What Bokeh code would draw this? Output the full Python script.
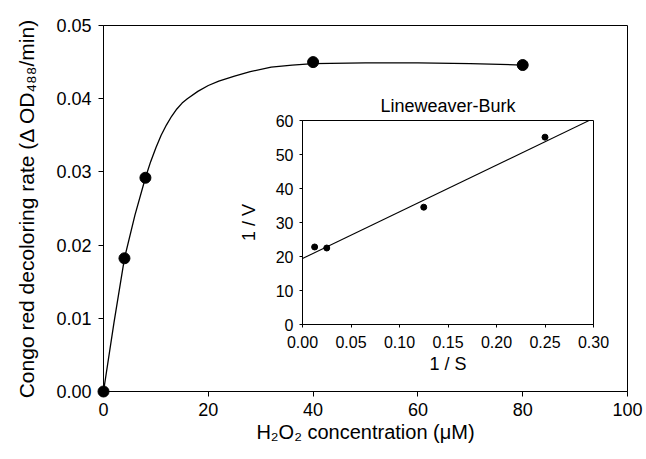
from bokeh.plotting import figure
from bokeh.layouts import column
from bokeh.models import FixedTicker, NumeralTickFormatter
from bokeh.embed import file_html
from bokeh.resources import INLINE

# ---- main data ----
conc = [0, 4, 8, 40, 80]
rate = [0.0, 0.0182, 0.0292, 0.0450, 0.0446]
curve_x = [0, 2, 4, 6, 8, 9, 10, 11, 12, 13, 14, 15, 16, 18, 20, 22, 25, 28,
           32, 36, 40, 50, 60, 70, 80]
curve_y = [0.0, 0.0094, 0.0182, 0.0241, 0.0292, 0.0314, 0.0333, 0.0350, 0.0364,
           0.0376, 0.0386, 0.0394, 0.0400, 0.0410, 0.0418, 0.0424, 0.0431, 0.0437,
           0.0443, 0.0446, 0.0448, 0.0449, 0.0449, 0.0448, 0.0446]
x_ticks = [0, 20, 40, 60, 80, 100]
y_ticks = [0.0, 0.01, 0.02, 0.03, 0.04, 0.05]

# ---- inset (Lineweaver-Burk) data ----
inv_s = [0.0125, 0.025, 0.125, 0.25]
inv_v = [22.8, 22.5, 34.5, 55.1]
fit_x = [0.0, 0.297]
fit_y = [19.4, 60.2]
ix_ticks = [0.0, 0.05, 0.10, 0.15, 0.20, 0.25, 0.30]
iy_ticks = [0, 10, 20, 30, 40, 50, 60]

FONT = "Liberation Sans"

p = figure(width=646, height=459, x_range=(0, 100), y_range=(0, 0.05),
           output_backend="svg", toolbar_location=None)
p.min_border_left = 103
p.min_border_right = 19
p.min_border_top = 25
p.min_border_bottom = 68
p.outline_line_color = "black"
p.outline_line_width = 1
p.grid.visible = False
p.background_fill_color = "white"
p.border_fill_color = "white"

p.xaxis.ticker = FixedTicker(ticks=x_ticks)
p.yaxis.ticker = FixedTicker(ticks=y_ticks)
p.yaxis.formatter = NumeralTickFormatter(format="0.00")
for ax in (p.xaxis[0], p.yaxis[0]):
    ax.axis_line_color = "black"
    ax.major_tick_line_color = "black"
    ax.major_tick_out = 5
    ax.major_tick_in = 0
    ax.minor_tick_line_color = None
    ax.major_label_text_font = FONT
    ax.major_label_text_font_size = "18px"
    ax.major_label_text_color = "black"
    ax.axis_label_text_font = FONT
    ax.axis_label_text_font_size = "20px"
    ax.axis_label_text_font_style = "normal"
    ax.axis_label_text_color = "black"
p.yaxis.axis_label_text_font_size = "21px"
p.xaxis.major_label_standoff = 6
p.yaxis.major_label_standoff = 7
p.xaxis.axis_label = "H\u2082O\u2082 concentration (\u03bcM)"
p.yaxis.axis_label = "Congo red decoloring rate (\u0394 OD\u2084\u2088\u2088/min)"
p.xaxis.axis_label_standoff = 2
p.yaxis.axis_label_standoff = 15

p.line(curve_x, curve_y, line_color="black", line_width=1.3, level="overlay")
p.scatter(conc, rate, size=11, fill_color="black", line_color="black", level="overlay")

# ---- inset figure ----
q = figure(width=413, height=296, x_range=(0, 0.30), y_range=(0, 60),
           output_backend="svg", toolbar_location=None,
           title="Lineweaver-Burk")
q.min_border_left = 103
q.min_border_right = 19
q.min_border_top = 36
q.min_border_bottom = 56
q.outline_line_color = "black"
q.grid.visible = False
q.background_fill_color = "white"
q.border_fill_alpha = 0
q.title.align = "center"
q.title.text_font = FONT
q.title.text_font_size = "18px"
q.title.text_font_style = "normal"
q.title.text_color = "black"
q.title.standoff = 10

q.xaxis.ticker = FixedTicker(ticks=ix_ticks)
q.yaxis.ticker = FixedTicker(ticks=iy_ticks)
q.xaxis.formatter = NumeralTickFormatter(format="0.00")
for ax in (q.xaxis[0], q.yaxis[0]):
    ax.axis_line_color = "black"
    ax.major_tick_line_color = "black"
    ax.major_tick_out = 3
    ax.major_tick_in = 0
    ax.minor_tick_line_color = None
    ax.major_label_text_font = FONT
    ax.major_label_text_font_size = "16px"
    ax.major_label_text_color = "black"
    ax.axis_label_text_font = FONT
    ax.axis_label_text_font_size = "18px"
    ax.axis_label_text_font_style = "normal"
    ax.axis_label_text_color = "black"
q.xaxis.major_label_standoff = 8
q.yaxis.major_label_standoff = 6
q.xaxis.axis_label = "1 / S"
q.yaxis.axis_label = "1 / V"
q.xaxis.axis_label_standoff = 3
q.yaxis.axis_label_standoff = 14

q.line(fit_x, fit_y, line_color="black", line_width=1.1)
q.scatter(inv_s, inv_v, size=6, fill_color="black", line_color="black")

q.margin = (-375, 0, 0, 199)

layout = column(p, q, spacing=0)
layout.margin = 0
p.margin = 0

open("out.html", "w").write(file_html(layout, INLINE))
